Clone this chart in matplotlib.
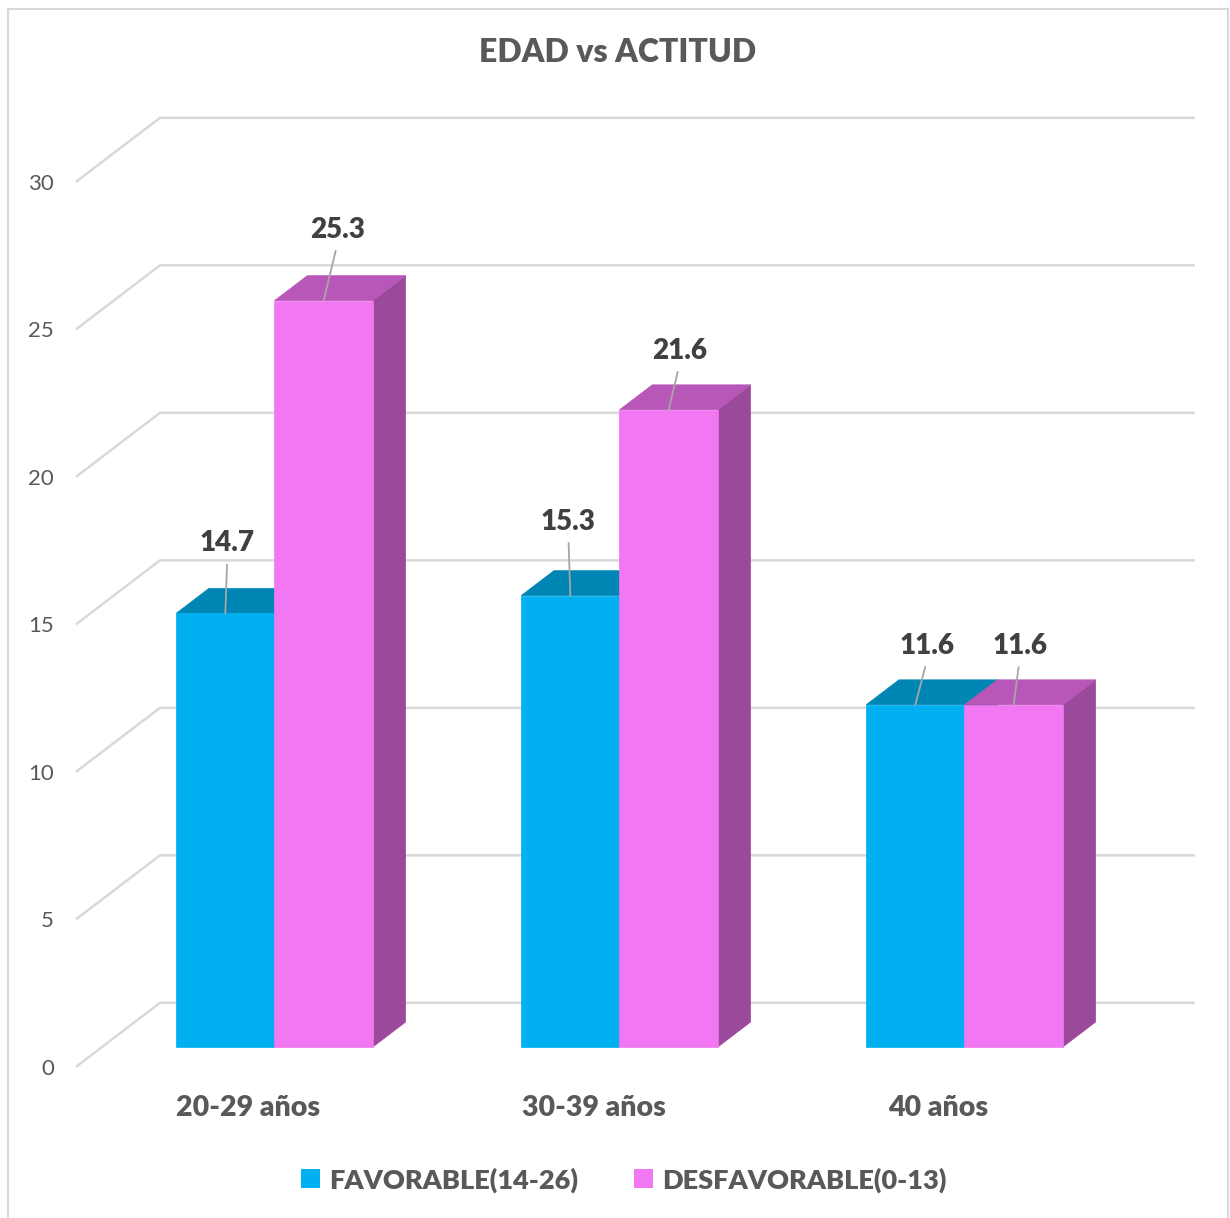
import matplotlib
matplotlib.use("Agg")
import matplotlib.pyplot as plt
from matplotlib.patches import Polygon, Rectangle, Patch


categories = ["20-29 años", "30-39 años", "40 años"]
favorable = [14.7, 15.3, 11.6]
desfavorable = [25.3, 21.6, 11.6]
series_names = ["FAVORABLE(14-26)", "DESFAVORABLE(0-13)"]
y_ticks = [0, 5, 10, 15, 20, 25, 30]

FONT = ["Lato", "DejaVu Sans"]
TXT = "#595959"
LBL = "#404040"
GRID = "#D9D9D9"

# front, top, side
FACES = [("#00B0F0", "#0086B4", "#00789F"),
         ("#F277F2", "#B857B8", "#9B4A9B")]

# label offsets in pixels (dx, dy) from the bar's front-top centre
LABEL_OFF = [[(2, 70), (14, 71)],
             [(-2, 74), (11, 59)],
             [(12, 59), (6, 59)]]

W, H, DPI = 1230, 1218, 100
PX_X, X0 = 345.0, 274.5      # px per category, px of first category
PX_Y, Y0 = 29.5, 1047.0      # px per unit, px (from top) of value 0
DX, DY = 84 / PX_X, 64 / PX_Y  # full floor depth in data units
BAR_W = 0.285
D_FRONT, D_BAR, D_WALL = -0.31, 0.39, 0.69


def P(x, y, d=0.0):
    # oblique projection: push a point back by depth d
    return (x + d * DX, y + d * DY)


fig = plt.figure(figsize=(W / DPI, H / DPI), dpi=DPI)
ax = fig.add_axes([0, 0, 1, 1])
ax.set_xlim(-X0 / PX_X, (W - X0) / PX_X)
ax.set_ylim(-(H - Y0) / PX_Y, Y0 / PX_Y)
ax.axis("off")

# outer frame
fig.add_artist(Rectangle((8 / W, -0.01), 1220 / W, 1 - 9 / H + 0.01,
                         transform=fig.transFigure, fill=False,
                         edgecolor=GRID, lw=1.5))

# wall gridlines + diagonal floor lines + tick labels
for v in y_ticks:
    pts = [P(-0.5, v, D_FRONT), P(-0.5, v, D_WALL), P(2.5, v, D_WALL)]
    ax.plot([p[0] for p in pts], [p[1] for p in pts], color=GRID, lw=1.8,
            zorder=1, solid_capstyle="butt")
    ax.annotate(str(v), xy=P(-0.5, v, D_FRONT), xytext=(-22, -2),
                textcoords="offset pixels", ha="right", va="center",
                fontsize=16, color=TXT, family=FONT)

# bars
series = [favorable, desfavorable]
for i in range(len(categories)):
    for s, vals in enumerate(series):
        v = vals[i]
        x0 = i - BAR_W + s * BAR_W
        x1 = x0 + BAR_W
        front_c, top_c, side_c = FACES[s]
        side = [P(x1, 0), P(x1, 0, D_BAR), P(x1, v, D_BAR), P(x1, v)]
        top = [P(x0, v), P(x1, v), P(x1, v, D_BAR), P(x0, v, D_BAR)]
        front = [P(x0, 0), P(x1, 0), P(x1, v), P(x0, v)]
        z = 3 + i * 10 + s * 3
        ax.add_patch(Polygon(side, closed=True, facecolor=side_c,
                             edgecolor=side_c, lw=0.5, zorder=z))
        ax.add_patch(Polygon(top, closed=True, facecolor=top_c,
                             edgecolor=top_c, lw=0.5, zorder=z + 1))
        ax.add_patch(Polygon(front, closed=True, facecolor=front_c,
                             edgecolor=front_c, lw=0.5, zorder=z + 2))

# data labels with leader lines
for i in range(len(categories)):
    for s, vals in enumerate(series):
        v = vals[i]
        xc = i - BAR_W / 2 + s * BAR_W
        ax.annotate(f"{v:.1f}", xy=P(xc, v), xytext=LABEL_OFF[i][s],
                    textcoords="offset pixels", ha="center", va="center",
                    fontsize=20, fontweight="heavy", color=LBL, family=FONT,
                    zorder=60,
                    arrowprops=dict(arrowstyle="-", color="#A6A6A6", lw=1.3,
                                    shrinkA=4, shrinkB=0,
                                    relpos=(0.5, 0.0)))

# category labels on the floor front edge
for i, cat in enumerate(categories):
    ax.annotate(cat, xy=P(i, 0, D_FRONT), xytext=(0, -41),
                textcoords="offset pixels", ha="center", va="center",
                fontsize=20.5, fontweight="heavy", color=TXT, family=FONT)

fig.text(618 / W, 1 - 53 / H, "EDAD vs ACTITUD", ha="center", va="center",
         fontsize=23, fontweight="heavy", color=TXT, family=FONT)

handles = [Patch(facecolor=FACES[k][0], edgecolor="none") for k in range(2)]
fig.legend(handles, series_names, loc="center",
           bbox_to_anchor=(624 / W, 1 - 1180 / H), ncol=2, frameon=False,
           handlelength=0.7, handleheight=0.7, handletextpad=0.35,
           columnspacing=2.05,
           prop=dict(family=FONT, size=19.5, weight="heavy"),
           labelcolor=TXT)

fig.savefig("out.png", dpi=DPI)
